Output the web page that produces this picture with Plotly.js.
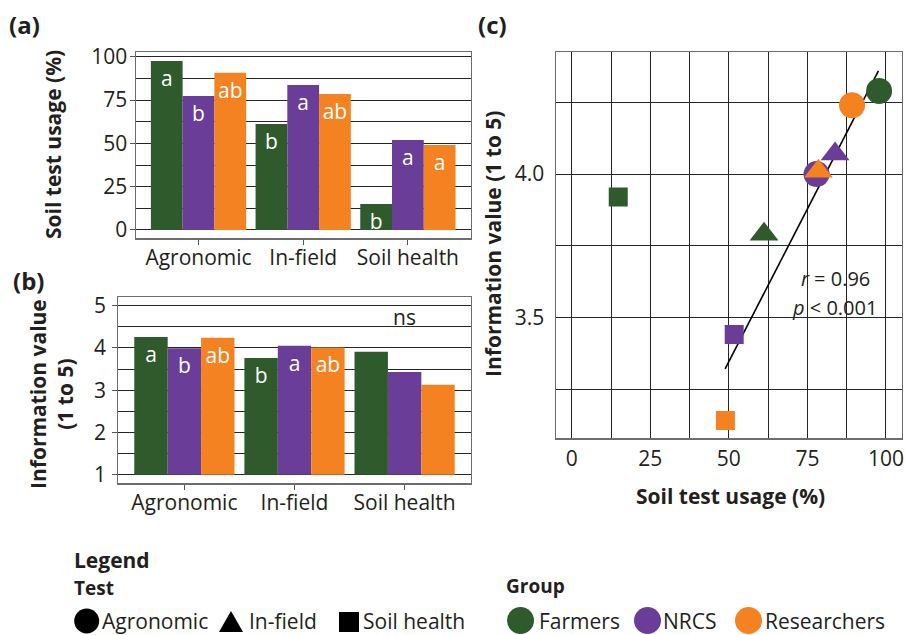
<!DOCTYPE html>
<html>
<head>
<meta charset="utf-8">
<script src="https://cdn.plot.ly/plotly-3.0.1.min.js"></script>
<style>
  html, body { margin: 0; padding: 0; background: #fff; }
  #chart { width: 905px; height: 635px; }
</style>
</head>
<body>
<div id="chart"></div>
<script>
// ---------- data ----------
const categories = ['Agronomic', 'In-field', 'Soil health'];
const groups = ['Farmers', 'NRCS', 'Researchers'];

// (a) soil test usage (%)
const usageFarmers = [97.5, 61.2, 15.0];
const usageNRCS = [77.3, 83.7, 51.9];
const usageResearchers = [90.8, 78.5, 49.0];
const usageLettersFarmers = ['a', 'b', 'b'];
const usageLettersNRCS = ['b', 'a', 'a'];
const usageLettersResearchers = ['ab', 'ab', 'a'];

// (b) information value (1 to 5)
const infoFarmers = [4.26, 3.76, 3.91];
const infoNRCS = [3.99, 4.05, 3.43];
const infoResearchers = [4.24, 4.01, 3.13];
const infoLettersFarmers = ['a', 'b', ''];
const infoLettersNRCS = ['b', 'a', ''];
const infoLettersResearchers = ['ab', 'ab', ''];
const infoBase = 1;

// (c) scatter: usage vs information value (order: Agronomic, In-field, Soil health)
const scatterUsageFarmers = [97.8, 61.2, 14.8];
const scatterInfoFarmers = [4.29, 3.79, 3.92];
const scatterUsageNRCS = [77.9, 83.8, 51.7];
const scatterInfoNRCS = [4.00, 4.07, 3.44];
const scatterUsageResearchers = [89.2, 78.5, 48.9];
const scatterInfoResearchers = [4.24, 4.01, 3.14];
const trendUsage = [48.8, 97.6];
const trendInfo = [3.32, 4.36];

// tick labels
const usageTicks = [0, 25, 50, 75, 100];
const infoTicks = [1, 2, 3, 4, 5];
const scatterInfoTicks = [3.5, 4.0];
const scatterUsageTicks = [0, 25, 50, 75, 100];

// ---------- style ----------
const FONT = 'Open Sans, Liberation Sans, Arial, sans-serif';
const TXT = '#231F20';
const C = { Farmers: '#2F5A2C', NRCS: '#6A3D98', Researchers: '#F58220' };
const symbols = ['circle', 'triangle-up', 'square'];
const symSizes = [26, 25, 19];
const W = 905, H = 635;
const px = v => v / W;
const py = v => 1 - v / H;

const traces = [];
const usageSets = [usageFarmers, usageNRCS, usageResearchers];
const usageLetters = [usageLettersFarmers, usageLettersNRCS, usageLettersResearchers];
const infoSets = [infoFarmers, infoNRCS, infoResearchers];
const infoLetters = [infoLettersFarmers, infoLettersNRCS, infoLettersResearchers];

groups.forEach((g, i) => {
  traces.push({
    type: 'bar', x: categories, y: usageSets[i], name: g,
    marker: { color: C[g], line: { width: 0 } },
    text: usageLetters[i], textposition: 'inside', insidetextanchor: 'end',
    textangle: 0, constraintext: 'none',
    textfont: { color: '#ffffff', size: 21, family: FONT },
    xaxis: 'x', yaxis: 'y', showlegend: false
  });
});
groups.forEach((g, i) => {
  traces.push({
    type: 'bar', x: categories, y: infoSets[i].map(v => v - infoBase), base: infoBase, name: g,
    marker: { color: C[g], line: { width: 0 } },
    text: infoLetters[i], textposition: 'inside', insidetextanchor: 'end',
    textangle: 0, constraintext: 'none',
    textfont: { color: '#ffffff', size: 21, family: FONT },
    xaxis: 'x2', yaxis: 'y2', showlegend: false
  });
});
traces.push({
  type: 'scatter', mode: 'lines', x: trendUsage, y: trendInfo,
  line: { color: '#000', width: 1.6 }, xaxis: 'x3', yaxis: 'y3', showlegend: false
});
const scatterSets = [
  [scatterUsageFarmers, scatterInfoFarmers],
  [scatterUsageNRCS, scatterInfoNRCS],
  [scatterUsageResearchers, scatterInfoResearchers]
];
groups.forEach((g, i) => {
  traces.push({
    type: 'scatter', mode: 'markers', x: scatterSets[i][0], y: scatterSets[i][1], name: g,
    marker: { color: C[g], symbol: symbols, size: symSizes, opacity: 1, line: { width: 0 } },
    xaxis: 'x3', yaxis: 'y3', showlegend: false
  });
});

const frame = { showline: true, mirror: true, linecolor: '#6d6d6d', linewidth: 1.2 };
const tickfont = { family: FONT, size: 21, color: TXT };
const grid = { showgrid: true, gridcolor: '#262626', gridwidth: 1 };

const layout = {
  width: W, height: H, autosize: false,
  margin: { l: 0, r: 0, t: 0, b: 0, pad: 0 },
  paper_bgcolor: '#fff', plot_bgcolor: '#fff',
  font: { family: FONT, color: TXT, size: 21 },
  barmode: 'group', bargap: 0.09, bargroupgap: 0,
  hovermode: false, showlegend: false,
  xaxis: Object.assign({}, frame, {
    domain: [px(135.7), px(470.7)], anchor: 'y', type: 'category',
    range: [-0.6, 2.6], ticks: 'outside', ticklen: 5, tickcolor: '#555',
    tickfont, showgrid: false, zeroline: false, ticklabelstandoff: -5
  }),
  yaxis: Object.assign({}, frame, grid, {
    domain: [py(238.3), py(51.7)], anchor: 'x',
    range: [-4.8, 102.9], tickvals: usageTicks, ticks: 'outside', ticklen: 5, tickcolor: '#555',
    tickfont, zeroline: false, ticklabelstandoff: -2,
    minor: { dtick: 12.5, tick0: 0, showgrid: true, gridcolor: '#262626', gridwidth: 1, ticks: '' }
  }),
  xaxis2: Object.assign({}, frame, {
    domain: [px(118.3), px(470.7)], anchor: 'y2', type: 'category',
    range: [-0.6, 2.6], ticks: 'outside', ticklen: 5, tickcolor: '#555',
    tickfont, showgrid: false, zeroline: false, ticklabelstandoff: -5
  }),
  yaxis2: Object.assign({}, frame, grid, {
    domain: [py(483.3), py(296.7)], anchor: 'x2',
    range: [0.8, 5.21], tickvals: infoTicks, ticks: 'outside', ticklen: 5, tickcolor: '#555',
    tickfont, zeroline: false, ticklabelstandoff: 2,
    minor: { dtick: 0.5, tick0: 0, showgrid: true, gridcolor: '#262626', gridwidth: 1, ticks: '' }
  }),
  xaxis3: Object.assign({}, frame, grid, {
    domain: [px(555.7), px(901.7)], anchor: 'y3',
    range: [-5.1, 105], tickvals: scatterUsageTicks, ticks: 'outside', ticklen: 6,
    tickcolor: 'rgba(0,0,0,0)', tickfont, zeroline: false, ticklabelstandoff: -5,
    minor: { dtick: 12.5, tick0: 0, showgrid: true, gridcolor: '#262626', gridwidth: 1, ticks: '' }
  }),
  yaxis3: Object.assign({}, frame, grid, {
    domain: [py(438.3), py(51.7)], anchor: 'x3',
    range: [3.078, 4.427], tickvals: scatterInfoTicks, tickformat: '.1f',
    ticks: 'outside', ticklen: 6, tickcolor: 'rgba(0,0,0,0)', tickfont, zeroline: false,
    ticklabelstandoff: 0,
    minor: { dtick: 0.25, tick0: 0, showgrid: true, gridcolor: '#262626', gridwidth: 1, ticks: '' }
  }),
  annotations: [],
  shapes: []
};

const A = layout.annotations;
function paperAnn(text, x, y, opts) {
  A.push(Object.assign({ text, x: px(x), y: py(y), xref: 'paper', yref: 'paper',
    showarrow: false, xanchor: 'center', yanchor: 'middle' }, opts || {}));
}
// panel labels
paperAnn('<b>(a)</b>', 24, 24, { font: { family: FONT, size: 24, color: TXT } });
paperAnn('<b>(b)</b>', 28, 281, { font: { family: FONT, size: 24, color: TXT } });
paperAnn('<b>(c)</b>', 492, 24, { font: { family: FONT, size: 24, color: TXT } });
// axis titles
paperAnn('<b>Soil test usage (%)</b>', 53, 145, { textangle: -90, font: { family: FONT, size: 21, color: TXT } });
paperAnn('<b>Information value<br>(1 to 5)</b>', 51, 394, { textangle: -90, font: { family: FONT, size: 21, color: TXT } });
paperAnn('<b>Information value (1 to 5)</b>', 493, 244, { textangle: -90, font: { family: FONT, size: 21, color: TXT } });
paperAnn('<b>Soil test usage (%)</b>', 730, 496, { font: { family: FONT, size: 21, color: TXT } });

// ns label in (b)
A.push({ text: 'ns', x: categories[2], y: 4.72, xref: 'x2', yref: 'y2', showarrow: false,
  xanchor: 'center', yanchor: 'middle', font: { family: FONT, size: 21, color: TXT } });
// stats in (c)
A.push({ text: '<i>r</i> = 0.96', x: 83.8, y: 3.637, xref: 'x3', yref: 'y3', showarrow: false,
  xanchor: 'center', yanchor: 'middle', font: { family: FONT, size: 20, color: TXT } });
A.push({ text: '<i>p</i> < 0.001', x: 83.6, y: 3.533, xref: 'x3', yref: 'y3', showarrow: false,
  xanchor: 'center', yanchor: 'middle', font: { family: FONT, size: 20, color: TXT } });

// ---------- legend ----------
paperAnn('<b>Legend</b>', 72, 560, { xanchor: 'left', font: { family: FONT, size: 21, color: TXT } });
paperAnn('<b>Test</b>', 72, 588, { xanchor: 'left', font: { family: FONT, size: 19, color: TXT } });
paperAnn('<b>Group</b>', 504, 586, { xanchor: 'left', font: { family: FONT, size: 19, color: TXT } });

const S = layout.shapes;
const legendRowY = 621;
function circ(cx, cy, d, color) {
  S.push({ type: 'circle', xref: 'paper', yref: 'paper', x0: px(cx - d / 2), x1: px(cx + d / 2),
    y0: py(cy + d / 2), y1: py(cy - d / 2), fillcolor: color, line: { width: 0 } });
}
circ(86.7, legendRowY, 25, '#000');
S.push({ type: 'path', xref: 'paper', yref: 'paper',
  path: 'M ' + px(219) + ' ' + py(632) + ' L ' + px(243) + ' ' + py(632) + ' L ' + px(231) + ' ' + py(611) + ' Z',
  fillcolor: '#000', line: { width: 0 } });
S.push({ type: 'rect', xref: 'paper', yref: 'paper', x0: px(339), x1: px(359), y0: py(632), y1: py(612),
  fillcolor: '#000', line: { width: 0 } });
const testLegendX = [100, 247, 361];
categories.forEach((c, i) => paperAnn(c, testLegendX[i], legendRowY, { xanchor: 'left', font: { family: FONT, size: 21, color: TXT } }));

const groupCircleX = [520.5, 647.5, 748.5];
const groupLegendX = [537, 661, 763];
groups.forEach((g, i) => {
  circ(groupCircleX[i], 620.5, 27, C[g]);
  paperAnn(g, groupLegendX[i], legendRowY, { xanchor: 'left', font: { family: FONT, size: 21, color: TXT } });
});

Plotly.newPlot('chart', traces, layout, { staticPlot: true, displayModeBar: false });
</script>
</body>
</html>
